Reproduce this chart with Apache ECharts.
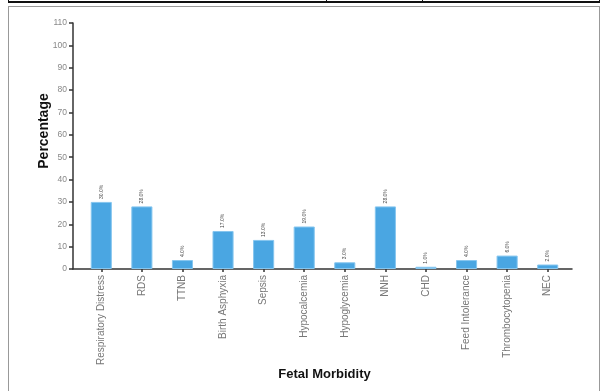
<!DOCTYPE html>
<html>
<head>
<meta charset="utf-8">
<script src="https://cdn.jsdelivr.net/npm/echarts@6/dist/echarts.min.js"></script>
<style>
  html, body { margin: 0; padding: 0; background: #fff; }
  #wrap { position: relative; width: 604px; height: 391px; overflow: hidden; }
  #chart { position: absolute; left: 0; top: 0; width: 604px; height: 391px; }
  .rule { position: absolute; left: 8px; top: 1px; width: 592px; height: 0; border-top: 2px solid #111; }
  .tick { position: absolute; top: 0; width: 0; height: 3px; border-left: 1.5px solid #111; }
  .frame { position: absolute; left: 8px; top: 6px; width: 590px; height: 400px; border: 1px solid #999; }
</style>
</head>
<body>
<div id="wrap">
  <div class="frame"></div>
  <div class="rule"></div>
  <div class="tick" style="left:8px"></div>
  <div class="tick" style="left:326px"></div>
  <div class="tick" style="left:422px"></div>
  <div class="tick" style="left:599px"></div>
  <div id="chart"></div>
</div>
<script>
// Fetal morbidity categories and their percentages
const categories = [
  'Respiratory Distress', 'RDS', 'TTNB', 'Birth Asphyxia', 'Sepsis', 'Hypocalcemia',
  'Hypoglycemia', 'NNH', 'CHD', 'Feed Intolerance', 'Thrombocytopenia', 'NEC'
];
const percentages = [30, 28, 4, 17, 13, 19, 3, 28, 1, 4, 6, 2];
const yTicks = [0, 10, 20, 30, 40, 50, 60, 70, 80, 90, 100, 110];

const chart = echarts.init(document.getElementById('chart'), null, { renderer: 'canvas' });
const font = 'Liberation Sans, Arial, Helvetica, sans-serif';

chart.setOption({
  animation: false,
  grid: [
    // bars live in the inner grid
    { left: 81, right: 36, top: 23, bottom: 122 },
    // outer grid carries the visible axis frame
    { left: 73, right: 32, top: 23, bottom: 122 }
  ],
  xAxis: [
    {
      type: 'category', gridIndex: 0, data: categories,
      axisLine: { show: false },
      axisTick: { show: true, alignWithLabel: true, length: 3, lineStyle: { color: '#333', width: 1.5 } },
      axisLabel: { rotate: 90, interval: 0, margin: 6, color: '#777', fontSize: 10, fontFamily: font },
      name: 'Fetal Morbidity', nameLocation: 'middle', nameGap: 99, nameMoveOverlap: false,
      nameTextStyle: { fontSize: 13, fontWeight: 'bold', color: '#111', fontFamily: font }
    },
    {
      type: 'value', gridIndex: 1, min: 0, max: 1,
      axisLine: { show: true, lineStyle: { color: '#333', width: 1.5 } },
      axisTick: { show: false }, axisLabel: { show: false }, splitLine: { show: false }
    }
  ],
  yAxis: [
    {
      type: 'value', gridIndex: 0, min: yTicks[0], max: yTicks[yTicks.length - 1], interval: 10,
      show: false
    },
    {
      type: 'value', gridIndex: 1, min: yTicks[0], max: yTicks[yTicks.length - 1], interval: 10,
      axisLine: { show: true, lineStyle: { color: '#333', width: 1.5 } },
      axisTick: { show: true, length: 4, lineStyle: { color: '#333', width: 1.5 } },
      axisLabel: { color: '#888', fontSize: 8.5, margin: 6, fontFamily: font },
      splitLine: { show: false },
      name: 'Percentage', nameLocation: 'middle', nameGap: 22, nameMoveOverlap: false,
      nameTextStyle: { fontSize: 14, fontWeight: 'bold', color: '#111', fontFamily: font, padding: [0, 0, 0, 30] }
    }
  ],
  series: [{
    type: 'bar', xAxisIndex: 0, yAxisIndex: 0,
    data: percentages,
    barWidth: '52%',
    itemStyle: { color: '#4aa6e2', borderColor: '#86c6ef', borderWidth: 1 },
    label: {
      show: true, position: 'top', rotate: 90, align: 'left', verticalAlign: 'middle',
      distance: 3, fontSize: 5, color: '#444', fontFamily: font,
      formatter: p => p.value.toFixed(1) + '%'
    }
  }]
});
</script>
</body>
</html>
